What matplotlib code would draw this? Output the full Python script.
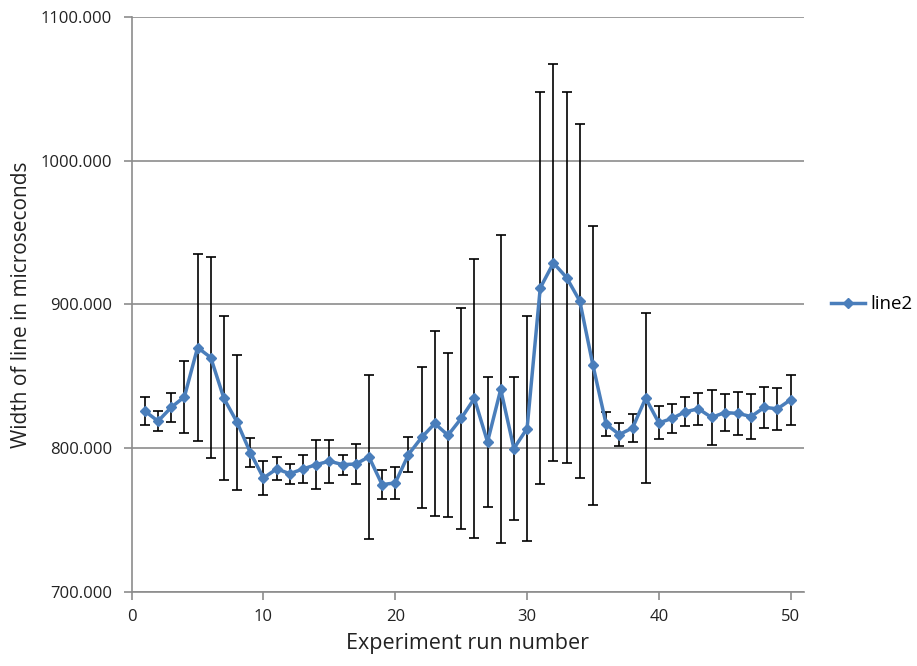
import numpy as np
import matplotlib.pyplot as plt

plt.rcParams['font.family'] = ['Open Sans', 'DejaVu Sans']

run = np.arange(1, 51)
width = [825.8, 818.8, 828.4, 835.7, 870.0, 863.0, 834.6, 818.0, 797.0, 779.3,
         785.6, 782.3, 785.6, 788.6, 791.0, 788.6, 789.0, 794.0, 774.7, 775.9,
         795.6, 807.5, 817.2, 809.0, 820.7, 834.6, 804.4, 840.9, 799.8, 813.7,
         911.4, 928.8, 918.6, 902.3, 857.6, 816.7, 809.5, 814.1, 834.8, 817.6,
         820.7, 825.3, 827.4, 821.4, 824.8, 824.2, 822.0, 828.4, 827.4, 833.7]
err = [10, 7, 10, 25, 65, 70, 57, 47, 10, 12,
       8, 7, 9.5, 17, 15, 7, 14, 57, 10, 11,
       12, 49, 64, 57, 77, 97, 45, 107, 49.5, 78,
       136, 138, 129, 123, 97, 8.5, 8, 9.5, 59, 11.5,
       10, 10, 11, 19, 13, 15, 15.5, 14.5, 14.5, 17.5]

grey = '#8c8c8c'

fig = plt.figure(figsize=(9.17, 6.66), dpi=100)
ax = fig.add_axes([0.1436, 0.111, 0.733, 0.864])

ax.errorbar(run, width, yerr=err, fmt='none', ecolor='black', elinewidth=1.2,
            capsize=3.5, capthick=1.2, zorder=2)
ax.plot(run, width, color='#4a7ebb', linewidth=2.5, marker='D', markersize=5.5,
        label='line2', zorder=3)

ax.set_xlim(0, 51)
ax.set_ylim(700, 1100)
ax.set_xticks([0, 10, 20, 30, 40, 50])
ax.set_yticks([700, 800, 900, 1000, 1100])
ax.set_yticklabels([f'{v:.3f}' for v in [700, 800, 900, 1000, 1100]])

ax.grid(axis='y', color=grey, linewidth=1.2)
ax.set_axisbelow(True)
for s in ['top', 'right']:
    ax.spines[s].set_visible(False)
for s in ['left', 'bottom']:
    ax.spines[s].set_color(grey)
    ax.spines[s].set_linewidth(1.2)
ax.tick_params(axis='both', colors=grey, length=6, width=1.2, labelsize=12,
               labelcolor='#222222')
ax.tick_params(axis='x', pad=6)
ax.tick_params(axis='y', pad=8)

ax.set_xlabel('Experiment run number', fontsize=15.5, color='#222222', labelpad=6)
ax.set_ylabel('Width of line in microseconds', fontsize=15, color='#222222', labelpad=6)

ax.legend(loc='center left', bbox_to_anchor=(1.015, 0.5), frameon=False,
          fontsize=13.5, handlelength=1.8, handletextpad=0.3)

plt.savefig('out.png', dpi=100)
